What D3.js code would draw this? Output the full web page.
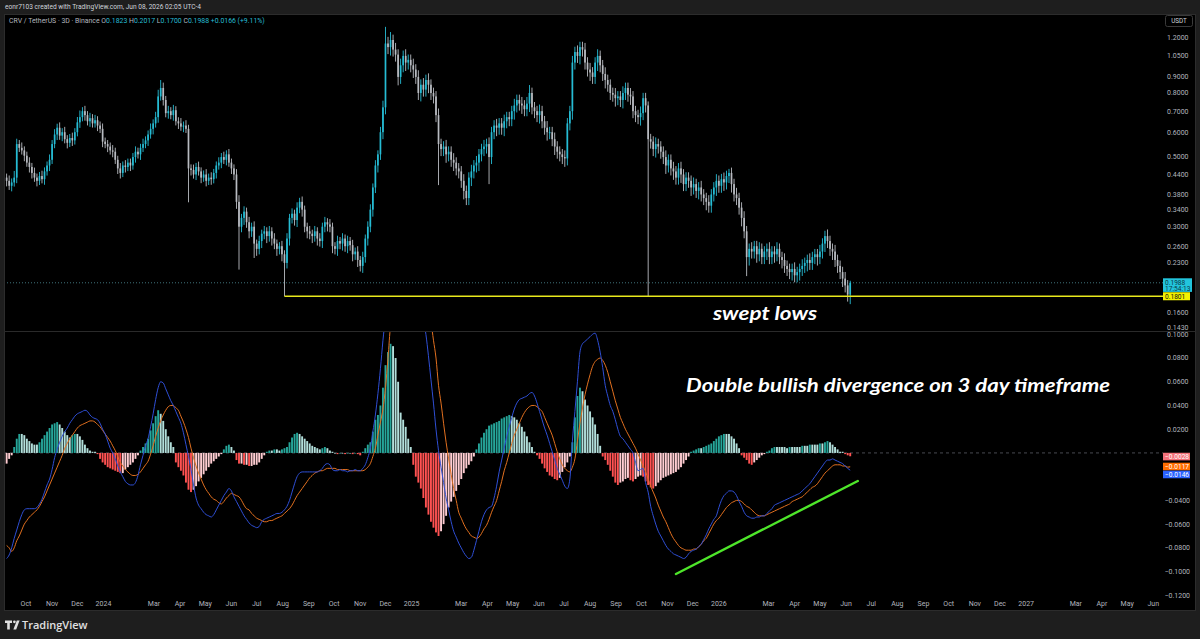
<!DOCTYPE html>
<html><head><meta charset="utf-8">
<script src="https://cdn.jsdelivr.net/npm/d3@7"></script>
<style>html,body{margin:0;padding:0;background:#1e1e1e;overflow:hidden}svg{display:block}</style>
</head><body>
<svg id="c" width="1200" height="639"></svg>
<script>
// ---------- DATA ----------
const symbolTitle = "CRV / TetherUS · 3D · Binance";
const candleStart = "2023-09-08";   // first 3-day candle
const candleDays = 3;
const firstOpenMilli = 430;
// closes, in thousandths of USDT
const closeMilli = [
420,405,415,430,550,535,525,505,480,465,
445,430,420,435,425,450,470,490,550,590,
620,585,600,570,555,575,565,600,645,670,
700,680,650,665,640,655,630,615,560,550,
540,525,520,490,460,445,470,465,480,470,
500,520,510,535,550,565,590,615,640,670,
780,830,760,690,700,680,705,650,640,625,
630,615,460,455,440,465,450,430,440,420,
430,425,445,470,480,500,490,510,480,460,
440,360,300,320,335,310,290,300,265,255,
270,285,290,280,290,275,265,255,260,245,
230,275,320,330,315,345,360,340,300,290,
285,280,290,275,270,300,310,305,300,260,
255,270,265,275,260,270,262,245,250,235,
225,240,275,300,340,400,470,510,600,720,
1150,1120,1180,1100,1060,900,980,1050,1000,1020,
980,950,900,800,850,820,880,850,800,780,
680,550,530,540,510,520,490,480,460,450,
420,390,370,430,450,470,480,510,530,540,
550,500,600,630,620,640,620,650,670,660,
700,730,760,740,730,710,740,800,720,700,
680,700,650,620,600,600,570,540,520,510,
500,495,640,700,1000,1080,1050,1120,1100,1000,
950,930,900,1000,1050,980,920,880,850,800,
790,770,780,760,800,830,790,780,700,680,
670,690,770,730,570,560,530,550,540,520,
500,470,490,460,450,430,460,440,410,430,
420,400,410,390,400,380,370,360,350,380,
400,420,405,425,415,435,445,410,380,370,
345,320,290,240,255,250,260,245,255,240,
250,255,240,250,245,255,240,235,225,220,
215,220,210,215,220,225,230,235,230,240,
245,240,250,265,280,270,255,250,235,225,
215,205,195,182.3,198.8];
// upper wick, % above the body top
const upWickPct = [
3,4,3,5,4,3,4,3,3,4, 3,4,3,3,4,3,3,4,3,4, 3,4,3,4,3,3,4,3,4,5, 3,4,3,4,3,4,3,3,4,3,
3,3,4,3,3,4,3,4,3,3, 3,4,3,3,4,3,3,4,3,4, 5,6,4,3,4,3,4,3,3,4, 3,4,3,3,4,3,4,3,3,4,
3,4,3,3,4,3,4,3,4,3, 3,4,5,3,4,3,4,3,4,3, 4,3,4,3,4,3,4,3,3,4, 3,4,3,4,3,4,3,4,3,3,
4,3,4,3,4,3,4,3,4,3, 3,4,3,4,3,4,3,4,3,4, 3,4,3,4,4,3,4,3,4,5, 13,5,6,4,5,4,5,4,5,4,
4,5,4,5,4,5,4,5,4,4, 4,5,4,4,5,4,4,5,4,4, 4,5,4,4,5,4,5,4,4,5, 4,5,4,4,5,4,4,5,4,4,
4,5,4,4,5,4,5,6,4,4, 4,5,4,4,5,4,4,5,4,4, 4,5,4,4,5,4,5,4,4,5, 4,5,4,4,5,4,4,5,4,4,
4,5,4,4,5,4,4,5,4,4, 4,5,4,4,3,4,4,5,4,4, 4,5,4,4,5,4,4,5,4,4, 4,4,5,4,4,5,4,4,5,4,
4,5,4,4,5,4,3,4,4,5, 4,4,5,4,4,5,4,4,5,4, 4,4,5,4,4,5,4,4,5,4, 4,4,5,4,4,5,4,4,5,4,
4,4,5,4,4,5,4,4,5,4, 4,4,5,4,1.5];
// lower wick, % below the body bottom
const dnWickPct = [
4,3,4,3,4,3,3,4,3,4, 4,3,4,3,3,4,3,4,3,3, 4,3,4,3,4,3,4,3,3,4, 3,4,3,4,3,3,4,3,4,3,
4,3,4,3,4,4,3,4,3,4, 3,4,3,4,3,3,4,3,4,3, 4,3,4,3,4,3,4,3,4,3, 4,3,22,4,3,4,3,4,3,4,
3,4,3,4,3,4,3,4,3,4, 4,5,27,4,5,4,5,4,10,5, 4,5,4,5,4,5,4,5,4,5, 21.7,4,5,4,4,5,4,5,4,5,
4,5,4,5,4,5,4,5,4,5, 4,5,4,5,4,5,4,5,4,5, 4,5,4,5,4,5,4,5,4,5, 5,5,6,5,5,6,5,5,6,5,
5,6,5,5,6,5,5,6,5,5, 5,26,5,5,6,5,5,6,5,5, 5,6,5,5,6,5,5,6,5,5, 5,18,5,5,6,5,5,6,5,5,
5,6,5,5,6,5,5,6,5,5, 5,6,5,5,6,5,5,6,5,5, 5,6,5,5,6,5,5,6,5,5, 5,6,5,5,6,5,5,6,5,5,
5,6,5,5,6,5,5,6,5,5, 5,6,5,5,68.4,5,5,6,5,5, 5,6,5,5,6,5,5,6,5,5, 5,6,5,5,6,5,5,6,5,5,
5,6,5,5,6,5,5,6,5,5, 5,6,5,13,6,5,5,6,5,5, 5,6,5,5,6,5,5,6,5,5, 5,6,5,5,6,5,5,6,5,5,
5,6,5,5,6,5,5,6,5,5, 5,6,5,5,6.75];
// MACD line, thousandths
const macdMilli = [
-89,-86,-80,-72,-65,-58,-52,-48,-47,-47,
-47,-47,-46,-43,-39,-33,-27,-22,-14,-4,
3,9,14,18,21,25,28,31,33,34,
35,36,35,32,30,29,28,25,20,16,
10,4,0,-5,-11,-16,-20,-24,-26,-27,
-27,-25,-19,-10,-2,6,12,22,33,45,
55,60,59,54,49,44,40,35,30,25,
17,7,-3,-14,-27,-38,-44,-47,-50,-52,
-53,-54,-52,-48,-44,-40,-36,-33,-30,-32,
-37,-41,-45,-49,-53,-56,-59,-61,-62,-63,
-62,-58,-56,-55,-54,-53,-52,-51,-51,-50,
-48,-45,-40,-33,-26,-20,-17,-16,-16,-16,
-16,-16,-16,-16,-15,-13,-10,-9,-10,-14,
-15,-15,-14,-15,-15,-16,-15,-15,-14,-15,
-15,-13,-10,-4,4,18,32,50,71,95,
115,140,165,180,185,180,170,160,150,140,
130,125,122,120,118,112,100,82,62,42,
20,2,-12,-25,-38,-48,-58,-66,-71,-76,
-80,-84,-87,-89,-88,-82,-74,-66,-58,-52,
-48,-46,-45,-38,-28,-16,-6,4,14,22,
30,37,42,45,46,47,48,50,51,48,
42,35,28,21,15,8,1,-6,-13,-18,
-23,-28,-30,-22,10,35,60,85,92,94,
96,98,100,101,95,85,72,57,48,40,
35,28,20,14,12,9,6,3,0,-8,
-15,-14,-13,-25,-33,-45,-53,-60,-66,-70,
-74,-78,-81,-83,-85,-86,-87,-88,-89,-88,
-85,-83,-82,-81,-79,-77,-73,-69,-64,-60,
-56,-53,-46,-40,-36,-34,-32,-32,-33,-36,
-41,-45,-50,-53,-54,-55,-55,-54,-54,-53,
-53,-51,-49,-47,-44,-43,-42,-41,-40,-39,
-38,-37,-36,-35,-34,-32,-30,-28,-26,-23,
-20,-17,-14,-11,-8,-6,-6,-5,-6,-7,
-8,-9,-11,-13,-14.6];
// signal line, thousandths
const signalMilli = [
-78,-80,-83,-80,-74,-70,-65,-60,-57,-54,
-52,-50,-48,-45,-41,-37,-32,-27,-22,-17,
-12,-7,-2,4,8,12,15,18,21,23,
24,25,26,27,27,26,24,22,19,16,
13,10,6,2,-3,-8,-11,-14,-16,-18,
-19,-19,-18,-16,-13,-10,-7,-1,6,14,
21,27,32,36,39,40,40,38,36,31,
26,20,13,4,-4,-11,-17,-22,-27,-31,
-34,-37,-39,-40,-42,-43,-41,-38,-36,-34,
-35,-36,-37,-40,-44,-47,-48,-51,-53,-55,
-56,-57,-58,-58,-57,-57,-56,-55,-54,-53,
-51,-49,-47,-44,-40,-36,-33,-30,-27,-24,
-21,-19,-17,-16,-15,-15,-14,-13,-13,-13,
-13,-14,-14,-14,-14,-14,-15,-15,-15,-15,
-15,-15,-14,-12,-9,-3,4,15,26,37,
55,80,108,125,140,150,155,158,158,156,
153,150,145,140,135,128,122,116,110,95,
80,57,42,25,9,-5,-18,-30,-40,-50,
-55,-60,-64,-67,-70,-71,-72,-71,-68,-64,
-61,-56,-50,-45,-40,-32,-24,-15,-8,0,
8,15,20,25,30,34,37,39,40,40,
39,37,35,30,25,20,15,8,1,-5,
-10,-13,-15,-16,-12,-5,10,25,38,49,
58,66,73,77,79,80,78,74,68,60,
52,44,37,30,25,20,16,12,8,4,
-1,-6,-11,-16,-22,-28,-33,-38,-44,-49,
-54,-58,-63,-68,-72,-75,-78,-80,-81,-82,
-82,-82,-81,-81,-79,-77,-74,-72,-68,-64,
-60,-57,-55,-52,-49,-46,-44,-42,-41,-40,
-40,-41,-43,-45,-46,-48,-50,-52,-53,-53,
-53,-52,-51,-50,-49,-48,-47,-46,-45,-44,
-43,-41,-40,-39,-38,-37,-35,-33,-31,-29,
-28,-26,-23,-20,-17,-15,-13,-11,-10,-10,
-10,-11,-11,-12,-11.7];
// histogram, thousandths
const histMilli = [
-9,-5,-2,5,12,16,16,15,12,10,
8,7,7,9,12,15,18,21,24,25,
26,24,21,18,15,13,15,16,16,14,
11,7,4,2,1,1,-1,-5,-8,-10,
-12,-13,-14,-15,-16,-17,-17,-14,-12,-10,
-8,-5,-2,2,5,8,12,19,25,31,
36,33,27,20,14,9,5,-8,-12,-15,
-19,-25,-31,-33,-31,-28,-24,-21,-18,-15,
-12,-9,-7,-5,-3,-1,3,6,7,5,
2,-6,-9,-9,-10,-10,-11,-11,-10,-10,
-8,-5,-2,1,2,2,3,3,2,3,
4,5,9,13,16,17,16,14,12,10,
8,6,5,4,3,4,5,4,2,1,
0,-1,0,0,-1,0,0,-1,0,-1,
-2,1,4,7,9,18,28,32,40,55,
74,85,92,90,80,60,34,28,22,12,
5,-10,-20,-25,-30,-38,-46,-52,-58,-63,
-67,-70,-66,-60,-53,-46,-41,-37,-32,-27,
-22,-17,-13,-10,-7,-3,3,8,13,17,
20,23,24,25,26,27,29,30,31,32,
31,30,28,25,22,18,14,9,5,1,
-2,-5,-9,-13,-16,-19,-20,-22,-23,-21,
-16,-12,-8,-3,9,30,48,55,52,45,
40,35,30,24,16,6,-3,-6,-10,-15,
-20,-25,-27,-25,-24,-22,-21,-23,-24,-22,
-20,-19,-20,-24,-27,-29,-30,-28,-25,-23,
-21,-20,-19,-18,-17,-16,-14,-12,-9,-6,
-3,1,2,3,4,4,5,6,7,8,
10,12,14,15,16,16,16,14,12,8,
4,-2,-4,-6,-9,-10,-8,-6,-4,-2,
-1,1,2,4,5,5,5,5,5,4,
5,5,5,5,5,6,6,6,7,7,
7,7,8,8,9,10,9,7,5,3,
1,1,-1,-2,-2.8];
const priceTicks = [1.2,1.05,0.9,0.8,0.7,0.6,0.5,0.44,0.38,0.34,0.3,0.26,0.23,0.205,0.16,0.143];
const macdTicks = [0.1,0.08,0.06,0.04,0.02,0,-0.02,-0.04,-0.06,-0.08,-0.1,-0.12];
const lastPrice = 0.1988, countdown = "17:54:13";
const sweptLevel = 0.1801, sweptFromIndex = 110;
const lastHist = -0.0028, lastSignal = -0.0117, lastMacd = -0.0146;
const trendLine = [["2025-11-11",-0.102],["2026-06-15",-0.0237]];
const headerText = "eonr7103 created with TradingView.com, Jun 08, 2026 02:05 UTC-4";
const ohlc = [["O","0.1823"],["H","0.2017"],["L","0.1700"],["C","0.1988"]];
const changeText = "+0.0166 (+9.11%)";
const note1 = "swept lows", note2 = "Double bullish divergence on 3 day timeframe";

// ---------- DRAW ----------
const W=1200,H=639, L=4,R=1196,T=14,B=611, PR=1163, SPLIT=331, MB=597;
const svg=d3.select('#c');
const FONT='Roboto, "Liberation Sans", sans-serif';
svg.append('rect').attr('width',W).attr('height',H).attr('fill','#1e1e1e');
svg.append('rect').attr('x',L+0.5).attr('y',T+0.5).attr('width',R-L-1).attr('height',B-T-1)
  .attr('fill','#000').attr('stroke','#2c2c2c');

const parse=d3.utcParse('%Y-%m-%d');
const t0=parse(candleStart);
const dates=closeMilli.map((_,i)=>d3.utcDay.offset(t0,i*candleDays));
const x=d3.scaleUtc().domain([parse('2023-10-01'),parse('2026-06-01')]).range([26,846]);
const yP=d3.scaleLog().domain([0.143,1.2]).range([327.7,37.7]);
const yM=d3.scaleLinear().domain([-0.12,0.1]).range([595.3,334.3]);

const defs=svg.append('defs');
defs.append('clipPath').attr('id','cp').append('rect').attr('x',L+1).attr('y',T+1).attr('width',PR-L-1).attr('height',SPLIT-T-1);
defs.append('clipPath').attr('id','cm').append('rect').attr('x',L+1).attr('y',SPLIT+1).attr('width',PR-L-1).attr('height',MB-SPLIT-1);

svg.append('line').attr('x1',L).attr('x2',R).attr('y1',SPLIT+0.5).attr('y2',SPLIT+0.5).attr('stroke','#2a2a2a');

// price pane
const gp=svg.append('g').attr('clip-path','url(#cp)');
gp.append('line').attr('x1',L).attr('x2',PR).attr('y1',yP(lastPrice)).attr('y2',yP(lastPrice))
  .attr('stroke','#4f8e99').attr('stroke-width',0.8).attr('stroke-dasharray','1,2');
const candles=closeMilli.map((c,i)=>{
  const o=i?closeMilli[i-1]:firstOpenMilli;
  return {d:dates[i],o:o/1000,c:c/1000,
    h:Math.max(o,c)*(1+upWickPct[i]/100)/1000,
    l:Math.min(o,c)*(1-dnWickPct[i]/100)/1000, up:c>=o};
});
const UP='#26bcd4', DN='#b8bbc1';
gp.selectAll('rect.w').data(candles).join('rect').attr('class','w')
  .attr('x',d=>x(d.d)-0.45).attr('width',0.9)
  .attr('y',d=>yP(d.h)).attr('height',d=>Math.max(0.8,yP(d.l)-yP(d.h)))
  .attr('fill',d=>d.up?UP:DN);
gp.selectAll('rect.b').data(candles).join('rect').attr('class','b')
  .attr('x',d=>x(d.d)-0.85).attr('width',1.7)
  .attr('y',d=>yP(Math.max(d.o,d.c))).attr('height',d=>Math.max(1,Math.abs(yP(d.o)-yP(d.c))))
  .attr('fill',d=>d.up?UP:DN);
gp.append('line').attr('x1',x(dates[sweptFromIndex])).attr('x2',PR)
  .attr('y1',yP(sweptLevel)).attr('y2',yP(sweptLevel)).attr('stroke','#e9e91c').attr('stroke-width',1.4);

// tags on the right axis (positions first, so axis labels beneath them are hidden as TradingView does)
const fm=v=>'\u2212'+d3.format('.4f')(Math.abs(v));
const tags=[
  {yc:yP(lastPrice)+2.3,h:13.6,fill:'#22c4dc',lines:[d3.format('.4f')(lastPrice),countdown],tc:'#0b3a45',w:29},
  {yc:yP(sweptLevel),h:8,fill:'#f2f200',lines:[d3.format('.4f')(sweptLevel)],tc:'#111',w:27},
  {yc:yM(lastHist)+0.3,h:7.6,fill:'#f4727a',lines:[fm(lastHist)],tc:'#fff',w:27},
  {yc:yM(lastSignal)-0.3,h:7.6,fill:'#ff6d00',lines:[fm(lastSignal)],tc:'#fff',w:27},
  {yc:yM(lastMacd)+4.2,h:7.6,fill:'#2962ff',lines:[fm(lastMacd)],tc:'#fff',w:27}];
const free=y=>tags.every(t=>Math.abs(y-t.yc)>t.h/2+3.5);

const ga=svg.append('g').attr('font-family',FONT).attr('font-size',7).attr('fill','#b2b5be');
ga.selectAll('text.p').data(priceTicks.filter(v=>free(yP(v)))).join('text').attr('class','p')
  .attr('x',1167).attr('y',d=>yP(d)+2.4).text(d=>d3.format('.4f')(d));
ga.selectAll('text.m').data(macdTicks.filter(v=>free(yM(v)))).join('text').attr('class','m')
  .attr('x',d=>d<0?1164.5:1167).attr('y',d=>yM(d)+2.4).text(d=>(d<0?'\u2212':'')+d3.format('.4f')(Math.abs(d)));
svg.append('rect').attr('x',1165.5).attr('y',15.5).attr('width',27).attr('height',11).attr('rx',2)
  .attr('fill','#000').attr('stroke','#3a3a3a');
svg.append('text').attr('x',1179).attr('y',23.4).attr('text-anchor','middle').attr('font-family',FONT)
  .attr('font-size',6.3).attr('fill','#d1d4dc').text('USDT');

// time axis
const months=d3.utcMonth.range(parse('2023-10-01'),parse('2027-07-01')).filter(d=>d.getUTCMonth()!==1);
svg.append('g').attr('font-family',FONT).attr('font-size',7).attr('fill','#b2b5be')
  .selectAll('text').data(months).join('text').attr('x',d=>x(d)).attr('y',606).attr('text-anchor','middle')
  .text(d=>d.getUTCMonth()===0?d3.utcFormat('%Y')(d):d3.utcFormat('%b')(d));

// MACD pane
const gm=svg.append('g').attr('clip-path','url(#cm)');
gm.append('line').attr('x1',L).attr('x2',PR).attr('y1',yM(0)).attr('y2',yM(0))
  .attr('stroke','#5a5d66').attr('stroke-width',0.8).attr('stroke-dasharray','3,3');
const hist=histMilli.map((h,i)=>({d:dates[i],v:h/1000,prev:i?histMilli[i-1]/1000:h/1000}));
const hc=d=>d.v>=0?(d.v>d.prev?'#26a69a':'#b2dfdb'):(d.v<d.prev?'#ff5252':'#ffcdd2');
gm.selectAll('rect.h').data(hist).join('rect').attr('class','h')
  .attr('x',d=>x(d.d)-0.95).attr('width',1.9)
  .attr('y',d=>Math.min(yM(0),yM(d.v))).attr('height',d=>Math.max(0.6,Math.abs(yM(d.v)-yM(0))))
  .attr('fill',hc);
const line=d3.line().x(d=>x(d.d)).y(d=>yM(d.v)).curve(d3.curveMonotoneX);
gm.append('path').datum(signalMilli.map((v,i)=>({d:dates[i],v:v/1000})))
  .attr('d',line).attr('fill','none').attr('stroke','#e2701f').attr('stroke-width',1);
gm.append('path').datum(macdMilli.map((v,i)=>({d:dates[i],v:v/1000})))
  .attr('d',line).attr('fill','none').attr('stroke','#2f4fd6').attr('stroke-width',1);
gm.append('line').attr('x1',x(parse(trendLine[0][0]))).attr('y1',yM(trendLine[0][1]))
  .attr('x2',x(parse(trendLine[1][0]))).attr('y2',yM(trendLine[1][1]))
  .attr('stroke','#4ee62a').attr('stroke-width',2.4).attr('stroke-linecap','round');

// draw tags
tags.forEach(t=>{
  const g=svg.append('g');
  g.append('rect').attr('x',1163).attr('y',t.yc-t.h/2).attr('width',t.w).attr('height',t.h).attr('fill',t.fill);
  t.lines.forEach((s,k)=>g.append('text').attr('x',1165).attr('y',t.yc-t.h/2+6.3+k*6.6)
    .attr('font-family',FONT).attr('font-size',6.6).attr('fill',t.tc).text(s));
});

// header & legend
svg.append('text').attr('x',5).attr('y',9.3).attr('font-family',FONT).attr('font-size',6.6)
  .attr('fill','#d1d4dc').text(headerText);
const lg=svg.append('text').attr('x',9).attr('y',22.5).attr('font-family',FONT).attr('font-size',6.9);
lg.append('tspan').attr('fill','#b2b5be').text(symbolTitle+'  ');
ohlc.forEach(([k,v])=>{lg.append('tspan').attr('fill','#b2b5be').text(' '+k);lg.append('tspan').attr('fill','#26bcd4').text(v+' ');});
lg.append('tspan').attr('fill','#26bcd4').text(' '+changeText);

// annotations
svg.append('text').attr('x',713).attr('y',319.5).attr('font-family','Lato, "Open Sans", sans-serif')
  .attr('font-weight',700).attr('font-style','italic').attr('font-size',19.5).attr('fill','#fff')
  .attr('textLength',104).attr('lengthAdjust','spacingAndGlyphs').text(note1);
svg.append('text').attr('x',686).attr('y',391.5).attr('font-family','Lato, "Open Sans", sans-serif')
  .attr('font-weight',700).attr('font-style','italic').attr('font-size',19.5).attr('fill','#fff')
  .attr('textLength',424).attr('lengthAdjust','spacingAndGlyphs').text(note2);

// footer logo
const lf=svg.append('g').attr('fill','#e0e0e0');
lf.append('path').attr('d','M5,620.5 h7 v2.6 h-2.2 v6.4 h-2.6 v-6.4 h-2.2 z');
lf.append('circle').attr('cx',14.4).attr('cy',621.8).attr('r',1.35);
lf.append('path').attr('d','M16.8,620.5 h2.8 l-3.4,9 h-2.8 z');
svg.append('text').attr('x',22).attr('y',629.3).attr('font-family','"Open Sans", Roboto, sans-serif')
  .attr('font-size',11).attr('font-weight',600).attr('fill','#e0e0e0').text('TradingView');
</script>
</body></html>
